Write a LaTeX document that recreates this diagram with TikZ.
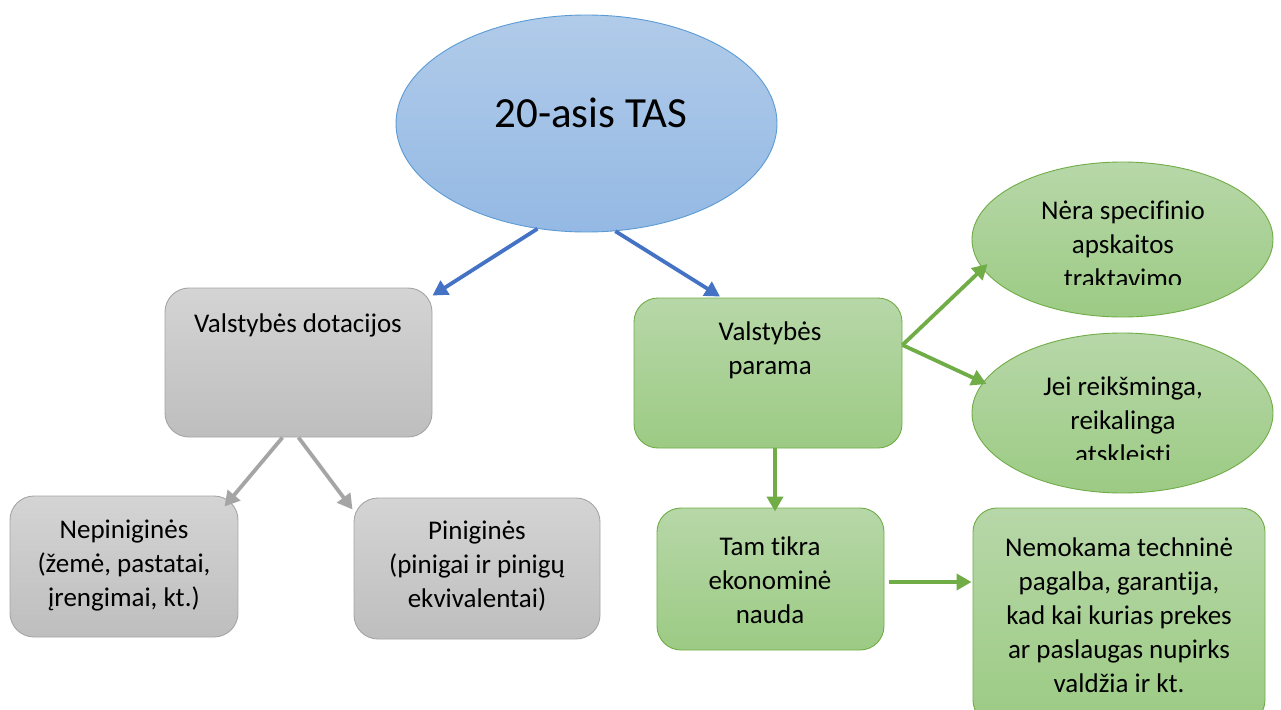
\documentclass[tikz,border=0pt]{standalone}
\usepackage{fontspec}
\setmainfont{Carlito}[Ligatures=NoCommon]
\usetikzlibrary{shapes.geometric,arrows.meta,calc}
\definecolor{blueTop}{HTML}{B1CBE9}
\definecolor{blueBot}{HTML}{94B9E4}
\definecolor{blueEdge}{HTML}{5B9BD5}
\definecolor{blueArrow}{HTML}{4472C4}
\definecolor{grayTop}{HTML}{D4D4D4}
\definecolor{grayBot}{HTML}{BEBEBE}
\definecolor{grayEdge}{HTML}{A5A5A5}
\definecolor{greenTop}{HTML}{B7D7A8}
\definecolor{greenBot}{HTML}{9CCB84}
\definecolor{greenEdge}{HTML}{70AD47}
\begin{document}
\begin{tikzpicture}[x=1pt,y=-1pt,
  graybox/.style={draw=grayEdge, line width=0.9pt, rounded corners=24pt, top color=grayTop, bottom color=grayBot, inner sep=0pt},
  greenbox/.style={draw=greenEdge, line width=0.9pt, rounded corners=24pt, top color=greenTop, bottom color=greenBot, inner sep=0pt},
  greenell/.style={ellipse, draw=greenEdge, line width=0.9pt, top color=greenTop, bottom color=greenBot, inner sep=0pt},
  txt/.style={align=center, inner sep=0pt, font=\fontsize{27}{34}\selectfont},
  blarrow/.style={draw=blueArrow, line width=3.8pt, -{Triangle[length=15pt,width=16pt]}},
  grarrow/.style={draw=grayEdge, line width=3.8pt, -{Triangle[length=15pt,width=16pt]}},
  gnarrow/.style={draw=greenEdge, line width=3.8pt, -{Triangle[length=15pt,width=16pt]}}
]
\clip (0,0) rectangle (1281,709);
\fill[white] (0,0) rectangle (1281,709);

% top ellipse
\node[ellipse, draw=blueEdge, line width=0.9pt, top color=blueTop, bottom color=blueBot, inner sep=0pt,
      minimum width=381pt, minimum height=217pt] (tas) at (586.5,123.5) {};
\node[inner sep=0pt, anchor=base, font=\fontsize{43}{50}\selectfont] (tastxt) at (591,127) {20-asis TAS};

% gray boxes
\node[graybox, minimum width=267pt, minimum height=149pt] (dot) at (298.5,362.5) {};
\node[txt] (dottxt) at (298,325) {Valstybės dotacijos};
\node[graybox, minimum width=228pt, minimum height=141pt] (nep) at (124,566.5) {};
\node[txt] (neptxt) at (124,565) {Nepiniginės\\(žemė, pastatai,\\įrengimai, kt.)};
\node[graybox, minimum width=246pt, minimum height=141pt] (pin) at (477,568.5) {};
\node[txt] (pintxt) at (477,566) {Piniginės\\(pinigai ir pinigų\\ekvivalentai)};

% green boxes
\node[greenbox, minimum width=268pt, minimum height=150pt] (par) at (768,373) {};
\node[txt] (partxt) at (770,350) {Valstybės\\parama};
\node[greenbox, minimum width=227pt, minimum height=142pt] (tam) at (770.5,579) {};
\node[txt] (tamtxt) at (770,580) {Tam tikra\\ekonominė\\nauda};
\node[greenbox, minimum width=292pt, minimum height=216pt] (nem) at (1119,616) {};
\node[txt] (nemtxt) at (1119,615) {Nemokama techninė\\pagalba, garantija,\\kad kai kurias prekes\\ar paslaugas nupirks\\valdžia ir kt.};

% green ellipses
\node[greenell, minimum width=301pt, minimum height=155pt] (e1) at (1122.5,239.5) {};
\begin{scope}
  \clip (985,170) rectangle (1260,284);
  \node[txt] (e1txt) at (1123,244) {Nėra specifinio\\apskaitos\\traktavimo};
\end{scope}
\node[greenell, minimum width=301pt, minimum height=160pt] (e2) at (1122.5,413) {};
\begin{scope}
  \clip (985,340) rectangle (1260,459);
  \node[txt] (e2txt) at (1123,420) {Jei reikšminga,\\reikalinga\\atskleisti};
\end{scope}

% arrows
\draw[blarrow] (tas.245) -- ([shift={(0,8)}]dot.north east);
\draw[blarrow] (tas.-75) -- ([shift={(-48,-1)}]par.north);
\draw[grarrow] ([shift={(-16,0)}]dot.south) -- ([shift={(-14,11)}]nep.north east);
\draw[grarrow] ([shift={(0,0)}]dot.south) -- ([shift={(-1,12)}]pin.north west);
\draw[gnarrow] ([shift={(0,-28)}]par.east) -- ([shift={(16,24.5)}]e1.west);
\draw[gnarrow] ([shift={(0,-28)}]par.east) -- ([shift={(15,-29)}]e2.west);
\draw[gnarrow] ([shift={(7,0)}]par.south) -- ([shift={(4.5,4)}]tam.north);
\draw[gnarrow] ([shift={(5,3)}]tam.east) -- ([shift={(-1,-34)}]nem.west);
\end{tikzpicture}
\end{document}
